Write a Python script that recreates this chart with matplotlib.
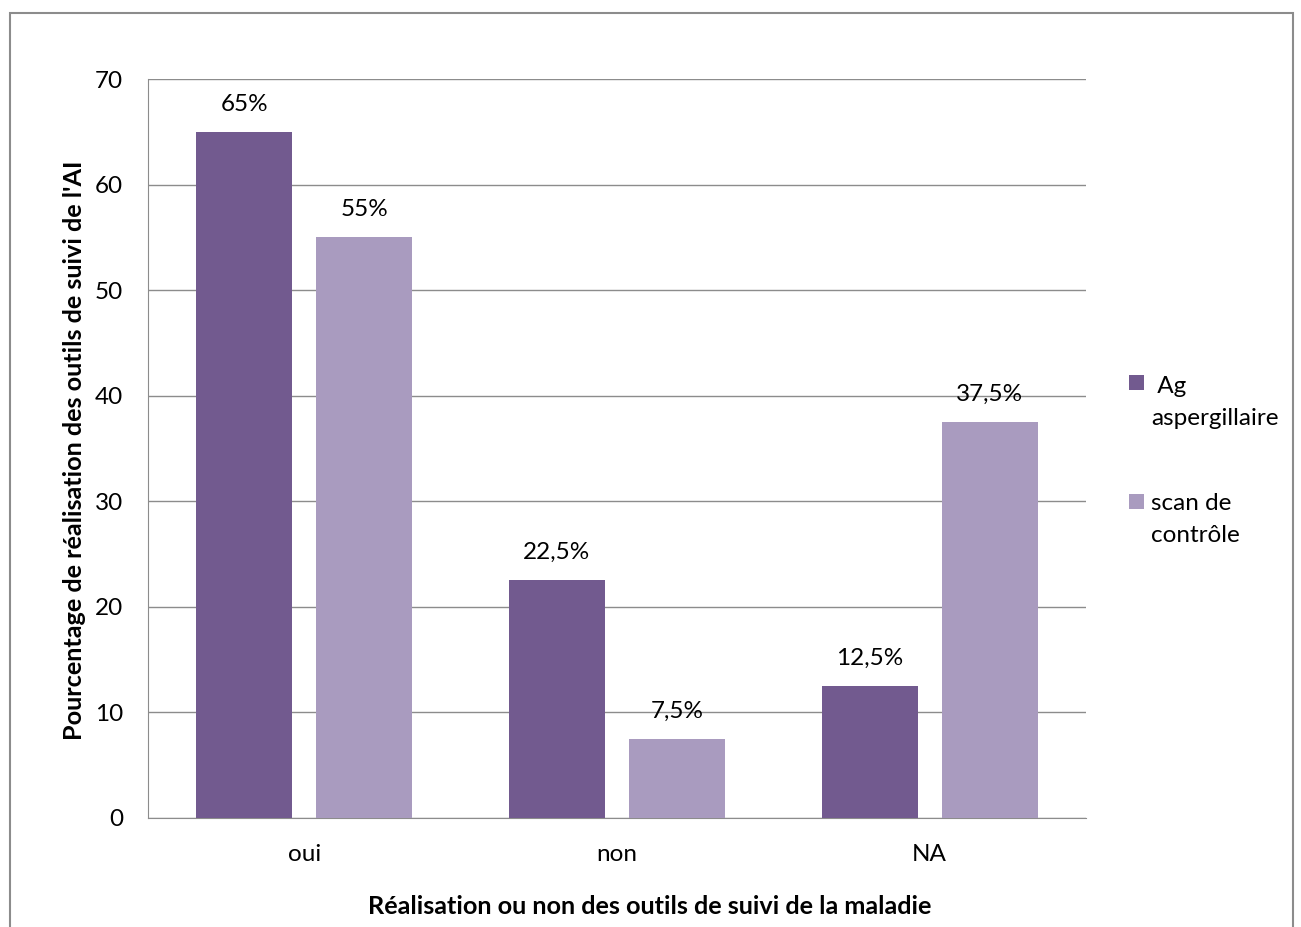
import matplotlib.pyplot as plt
import numpy as np
from matplotlib.patches import Rectangle

# Data
categories = ['oui', 'non', 'NA']
series_names = [' Ag\naspergillaire', 'scan de\ncontrôle']
ag_values = [65, 22.5, 12.5]
scan_values = [55, 7.5, 37.5]
ag_labels = ['65%', '22,5%', '12,5%']
scan_labels = ['55%', '7,5%', '37,5%']

DARK = '#725A8F'
LIGHT = '#A99BBF'
GRID = '#8C8C8C'
FS = 17.5

W, H = 1301, 927

plt.rcParams['font.family'] = ['Lato', 'DejaVu Sans']

fig = plt.figure(figsize=(W / 100, H / 100), dpi=100)
ax = fig.add_axes([148 / W, 1 - 818 / H, (1086 - 148) / W, (818 - 79) / H])

x = np.arange(len(categories))
width = 0.307
offset = 0.192

bars_ag = ax.bar(x - offset, ag_values, width, color=DARK, zorder=3)
bars_scan = ax.bar(x + offset, scan_values, width, color=LIGHT, zorder=3)

for bars, labels in [(bars_ag, ag_labels), (bars_scan, scan_labels)]:
    for b, lab in zip(bars, labels):
        ax.annotate(lab, (b.get_x() + b.get_width() / 2, b.get_height()),
                    xytext=(0, 20), textcoords='offset points',
                    ha='center', va='center', fontsize=FS, zorder=4)

ax.set_xlim(-0.5, 2.5)
ax.set_ylim(0, 70)
ax.set_yticks(range(0, 71, 10))
ax.set_xticks(x)
ax.set_xticklabels(categories)
ax.tick_params(axis='both', length=0, labelsize=FS)
ax.tick_params(axis='y', pad=18)
ax.tick_params(axis='x', pad=19)
ax.yaxis.grid(True, color=GRID, linewidth=1.0, zorder=0)
ax.set_axisbelow(True)

for side in ['top', 'right']:
    ax.spines[side].set_visible(False)
ax.spines['left'].set_color(GRID)
ax.spines['bottom'].set_color(GRID)

# axis titles, centred like in the Excel chart area
fig.text(650 / W, 1 - 906 / H, 'Réalisation ou non des outils de suivi de la maladie',
         ha='center', va='center', fontsize=18.2, fontweight='bold')
fig.text(75 / W, 1 - 450 / H, "Pourcentage de réalisation des outils de suivi de l'AI",
         ha='center', va='center', rotation=90, fontsize=18.2, fontweight='bold')

# legend drawn by hand so the swatch sits on the first text line
legend_rows = [(DARK, series_names[0], 375, 393), (LIGHT, series_names[1], 494, 510)]
line_step = 32
for colour, name, sq_top, baseline in legend_rows:
    fig.patches.append(Rectangle((1129 / W, 1 - (sq_top + 15) / H), 15 / W, 15 / H,
                                 transform=fig.transFigure, facecolor=colour,
                                 edgecolor='none'))
    for i, line in enumerate(name.split('\n')):
        fig.text(1151 / W, 1 - (baseline + i * line_step) / H, line,
                 ha='left', va='baseline', fontsize=FS)

# outer chart border (bottom edge is cut off in the original)
fig.patches.append(Rectangle((10 / W, -0.05), (1293 - 10) / W, 1 - 13 / H + 0.05,
                             transform=fig.transFigure, fill=False,
                             edgecolor=GRID, linewidth=1.5))

fig.savefig('out.png', dpi=100)
